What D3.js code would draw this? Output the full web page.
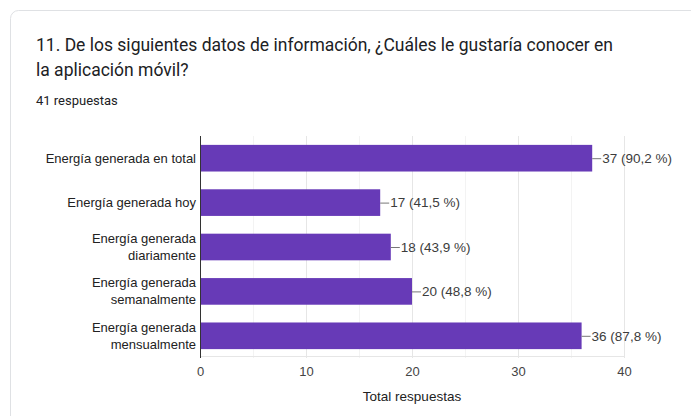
<!DOCTYPE html>
<html>
<head>
<meta charset="utf-8">
<script src="https://cdn.jsdelivr.net/npm/d3@7"></script>
<style>
  html, body { margin: 0; padding: 0; background: #ffffff; }
  svg { display: block; }
</style>
</head>
<body>
<svg id="chart" width="691" height="416"></svg>
<script>
// Survey question and response count
const titleLines = [
  "11. De los siguientes datos de información, ¿Cuáles le gustaría conocer en",
  "la aplicación móvil?"
];
const responseCount = 41;
const responseLabel = "41 respuestas";

// Answer options and how many respondents picked each
const categories = [
  "Energía generada en total",
  "Energía generada hoy",
  "Energía generada diariamente",
  "Energía generada semanalmente",
  "Energía generada mensualmente"
];
const counts = [37, 17, 18, 20, 36];

// Horizontal axis
const xTicks = [0, 10, 20, 30, 40];
const xMinorTicks = [5, 15, 25, 35];
const xMax = 40;
const xTitle = "Total respuestas";

const svg = d3.select("#chart");

// Card outline
svg.append("rect")
  .attr("x", 10.5).attr("y", 10.5)
  .attr("width", 720).attr("height", 440)
  .attr("rx", 8).attr("ry", 8)
  .attr("fill", "#ffffff")
  .attr("stroke", "#dfe1e4")
  .attr("stroke-width", 1);

// Header
const header = svg.append("g").attr("font-family", "Roboto, 'Noto Sans', sans-serif");
header.selectAll("text.title")
  .data(titleLines)
  .join("text")
  .attr("class", "title")
  .attr("x", 36)
  .attr("y", (d, i) => 51 + i * 25)
  .attr("font-size", 17.5)
  .attr("fill", "#202124")
  .text(d => d);

header.append("text")
  .attr("x", 36).attr("y", 105)
  .attr("font-size", 13)
  .attr("fill", "#202124")
  .text(responseLabel);

// Chart area
const plot = { left: 200, right: 624, top: 136, bottom: 358 };

const x = d3.scaleLinear().domain([0, xMax]).range([plot.left, plot.right]);
const y = d3.scaleBand()
  .domain(categories)
  .range([plot.top, plot.bottom])
  .paddingInner(0.4)
  .paddingOuter(0.2);

const chart = svg.append("g").attr("font-family", "'Liberation Sans', Arial, sans-serif");

// Minor and major gridlines
chart.append("g")
  .selectAll("line")
  .data(xMinorTicks)
  .join("line")
  .attr("x1", d => x(d) + 0.5).attr("x2", d => x(d) + 0.5)
  .attr("y1", plot.top).attr("y2", plot.bottom)
  .attr("stroke", "#f3f3f3");

chart.append("g")
  .selectAll("line")
  .data(xTicks.slice(1))
  .join("line")
  .attr("x1", d => Math.round(x(d)) + 0.5).attr("x2", d => Math.round(x(d)) + 0.5)
  .attr("y1", plot.top).attr("y2", plot.bottom)
  .attr("stroke", "#e6e6e6");

// Bottom frame line
chart.append("line")
  .attr("x1", plot.left).attr("x2", Math.round(x(xMax)) + 1)
  .attr("y1", plot.bottom - 1.5).attr("y2", plot.bottom - 1.5)
  .attr("stroke", "#e6e6e6");

// Bars
chart.append("g")
  .selectAll("rect")
  .data(categories)
  .join("rect")
  .attr("x", x(0))
  .attr("y", d => y(d))
  .attr("width", (d, i) => x(counts[i]) - x(0))
  .attr("height", y.bandwidth())
  .attr("fill", "#673ab7");

// Baseline axis
chart.append("line")
  .attr("x1", x(0) + 0.5).attr("x2", x(0) + 0.5)
  .attr("y1", plot.top).attr("y2", plot.bottom)
  .attr("stroke", "#333333");

// Value annotations with leader lines
const fmtPct = v => d3.format(".1f")(v).replace(".", ",");
const ann = chart.append("g")
  .selectAll("g")
  .data(categories)
  .join("g")
  .attr("transform", (d, i) => `translate(${x(counts[i])},${y(d) + y.bandwidth() / 2})`);
ann.append("line")
  .attr("x1", 0).attr("x2", 9)
  .attr("y1", 0.5).attr("y2", 0.5)
  .attr("stroke", "#777777");
ann.append("text")
  .attr("x", 10)
  .attr("dy", "0.35em")
  .attr("font-size", 13.5)
  .attr("fill", "#3c3c3c")
  .text((d, i) => `${counts[i]} (${fmtPct(counts[i] / responseCount * 100)} %)`);

// Category labels, wrapped onto two lines when too wide
const maxLabelWidth = 160;
const labels = chart.append("g")
  .selectAll("text")
  .data(categories)
  .join("text")
  .attr("x", plot.left - 4)
  .attr("text-anchor", "end")
  .attr("font-size", 13)
  .attr("fill", "#222222");

labels.each(function (d) {
  const t = d3.select(this);
  t.text(d);
  let lines = [d];
  if (this.getComputedTextLength() > maxLabelWidth) {
    const cut = d.lastIndexOf(" ");
    lines = [d.slice(0, cut), d.slice(cut + 1)];
  }
  t.text(null);
  const cy = y(d) + y.bandwidth() / 2;
  const lh = 17;
  lines.forEach((ln, k) => {
    t.append("tspan")
      .attr("x", plot.left - 4)
      .attr("y", cy + (k - (lines.length - 1) / 2) * lh)
      .attr("dy", "0.35em")
      .text(ln);
  });
});

// X axis tick labels
const xAxis = d3.axisBottom(x).tickValues(xTicks).tickSize(0).tickPadding(9);
const xg = chart.append("g")
  .attr("transform", `translate(0,${plot.bottom})`)
  .call(xAxis);
xg.select(".domain").remove();
xg.selectAll("text")
  .attr("font-family", "'Liberation Sans', Arial, sans-serif")
  .attr("font-size", 13)
  .attr("fill", "#444444");

// X axis title
chart.append("text")
  .attr("x", (plot.left + plot.right) / 2)
  .attr("y", 401)
  .attr("text-anchor", "middle")
  .attr("font-size", 13.5)
  .attr("fill", "#222222")
  .text(xTitle);
</script>
</body>
</html>
